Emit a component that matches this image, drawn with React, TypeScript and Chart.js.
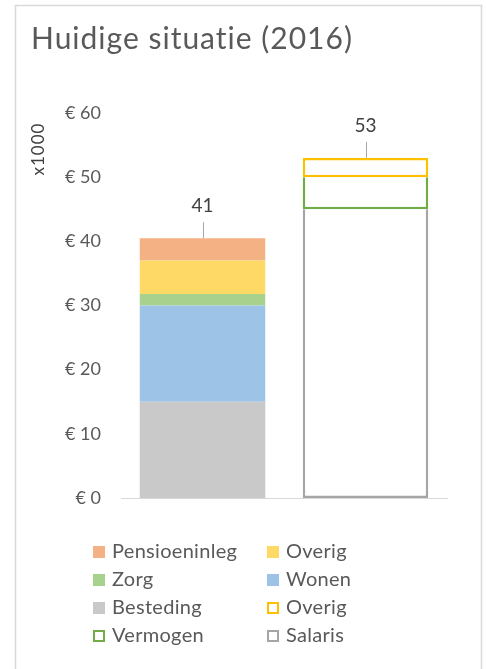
import React, { useEffect, useRef } from "react";
import { Chart, registerables } from "chart.js";

Chart.register(...registerables);

const categories = ["Huidige besteding", "Huidig inkomen"];
const seriesNames = ["Besteding", "Wonen", "Zorg", "Overig", "Pensioeninleg", "Salaris", "Vermogen", "Overig"];
const besteding = [15, null];
const wonen = [15, null];
const zorg = [1.8, null];
const overigSpend = [5.2, null];
const pensioeninleg = [3.5, null];
const salaris = [null, 45];
const vermogen = [null, 5];
const overigIncome = [null, 3];
const totalLabels = ["41", "53"];
const yTicks = [0, 10, 20, 30, 40, 50, 60];
const legendOrder = [4, 3, 2, 1, 0, 7, 6, 5];

const FONT = "Lato, 'Open Sans', sans-serif";

const decorPlugin = {
  id: "decor",
  beforeDraw(chart: any) {
    const ctx = chart.ctx;
    ctx.save();
    ctx.fillStyle = "#ffffff";
    ctx.fillRect(0, 0, chart.width, chart.height);
    ctx.strokeStyle = "#D9D9D9";
    ctx.lineWidth = 1.5;
    ctx.strokeRect(15.5, 5.5, 466, 680);
    ctx.fillStyle = "#595959";
    ctx.font = `30px ${FONT}`;
    (ctx as any).letterSpacing = "1px";
    ctx.textBaseline = "middle";
    ctx.textAlign = "left";
    ctx.fillText("Huidige situatie (2016)", 31, 39);
    ctx.save();
    ctx.translate(39, 149);
    ctx.rotate(-Math.PI / 2);
    ctx.fillStyle = "#404040";
    ctx.font = `17px ${FONT}`;
    (ctx as any).letterSpacing = "1px";
    ctx.textAlign = "center";
    ctx.fillText("x1000", 0, 0);
    ctx.restore();
    (ctx as any).letterSpacing = "0px";
    ctx.restore();
  },
  afterDraw(chart: any) {
    const ctx = chart.ctx;
    const y = chart.scales.y;
    ctx.save();
    categories.forEach((_, i) => {
      let total = 0;
      let xPos = 0;
      chart.data.datasets.forEach((ds: any, di: number) => {
        const v = ds.data[i];
        if (v != null) {
          total += v;
          xPos = chart.getDatasetMeta(di).data[i].x;
        }
      });
      const top = y.getPixelForValue(total);
      ctx.strokeStyle = "#A6A6A6";
      ctx.lineWidth = 1;
      ctx.beginPath();
      ctx.moveTo(Math.round(xPos) + 0.5, top);
      ctx.lineTo(Math.round(xPos) + 0.5, top - 16);
      ctx.stroke();
      ctx.fillStyle = "#404040";
      ctx.font = `19px ${FONT}`;
      ctx.textAlign = "center";
      ctx.textBaseline = "middle";
      ctx.fillText(totalLabels[i], xPos, top - 32);
    });
    const colX = [93, 267];
    const rowY = [552, 580, 608, 636];
    ctx.font = `20px ${FONT}`;
    (ctx as any).letterSpacing = "0.3px";
    ctx.textAlign = "left";
    ctx.textBaseline = "middle";
    legendOrder.forEach((di, k) => {
      const ds = chart.data.datasets[di];
      const cx = colX[k % 2];
      const cy = rowY[Math.floor(k / 2)];
      if (ds.backgroundColor === "#ffffff") {
        ctx.fillStyle = "#ffffff";
        ctx.fillRect(cx, cy - 6, 12, 12);
        ctx.strokeStyle = ds.borderColor;
        ctx.lineWidth = 2;
        ctx.strokeRect(cx + 1, cy - 5, 10, 10);
      } else {
        ctx.fillStyle = ds.backgroundColor;
        ctx.fillRect(cx, cy - 6, 12, 12);
      }
      ctx.fillStyle = "#595959";
      ctx.fillText(ds.label, cx + 19, cy);
    });
    (ctx as any).letterSpacing = "0px";
    ctx.restore();
  },
};

export default function App() {
  const ref = useRef<HTMLCanvasElement>(null);
  useEffect(() => {
    if (!ref.current) return;
    const fill = (label: string, data: any[], color: string) => ({
      label, data, backgroundColor: color, borderWidth: 0,
    });
    const outline = (label: string, data: any[], color: string, skipped: any) => ({
      label, data, backgroundColor: "#ffffff", borderColor: color, borderWidth: 2.5, borderSkipped: skipped,
    });
    const chart = new Chart(ref.current, {
      type: "bar",
      data: {
        labels: categories,
        datasets: [
          fill(seriesNames[0], besteding, "#C9C9C9"),
          fill(seriesNames[1], wonen, "#9DC3E6"),
          fill(seriesNames[2], zorg, "#A9D18E"),
          fill(seriesNames[3], overigSpend, "#FFD966"),
          fill(seriesNames[4], pensioeninleg, "#F4B183"),
          outline(seriesNames[5], salaris, "#A5A5A5", "end"),
          outline(seriesNames[6], vermogen, "#70AD47", "end"),
          outline(seriesNames[7], overigIncome, "#FFC000", false),
        ] as any,
      },
      options: {
        animation: false,
        responsive: false,
        maintainAspectRatio: false,
        layout: { padding: { left: 0, top: 113, right: 39, bottom: 171 } },
        datasets: { bar: { categoryPercentage: 1, barPercentage: 0.77 } },
        plugins: { legend: { display: false }, title: { display: false }, tooltip: { enabled: false } },
        scales: {
          x: {
            stacked: true,
            grid: { display: false, drawTicks: false },
            border: { display: true, color: "#D9D9D9", width: 1 },
            ticks: { display: false },
            afterFit: (s: any) => { s.height = 0; },
          },
          y: {
            stacked: true,
            min: 0,
            max: 60,
            grid: { display: false, drawTicks: false },
            border: { display: false },
            afterBuildTicks: (s: any) => { s.ticks = yTicks.map((v) => ({ value: v })); },
            ticks: {
              padding: 20,
              color: "#595959",
              font: { family: FONT, size: 18 },
              callback: (v: any) => `€ ${v}`,
            },
            afterFit: (s: any) => { s.width = 121; },
          },
        },
      },
      plugins: [decorPlugin],
    });
    return () => chart.destroy();
  }, []);
  return (
    <div style={{ position: "fixed", left: 0, top: 0, width: 486, height: 669, background: "#fff" }}>
      <canvas ref={ref} width={486} height={669} style={{ width: 486, height: 669, display: "block" }} />
    </div>
  );
}
